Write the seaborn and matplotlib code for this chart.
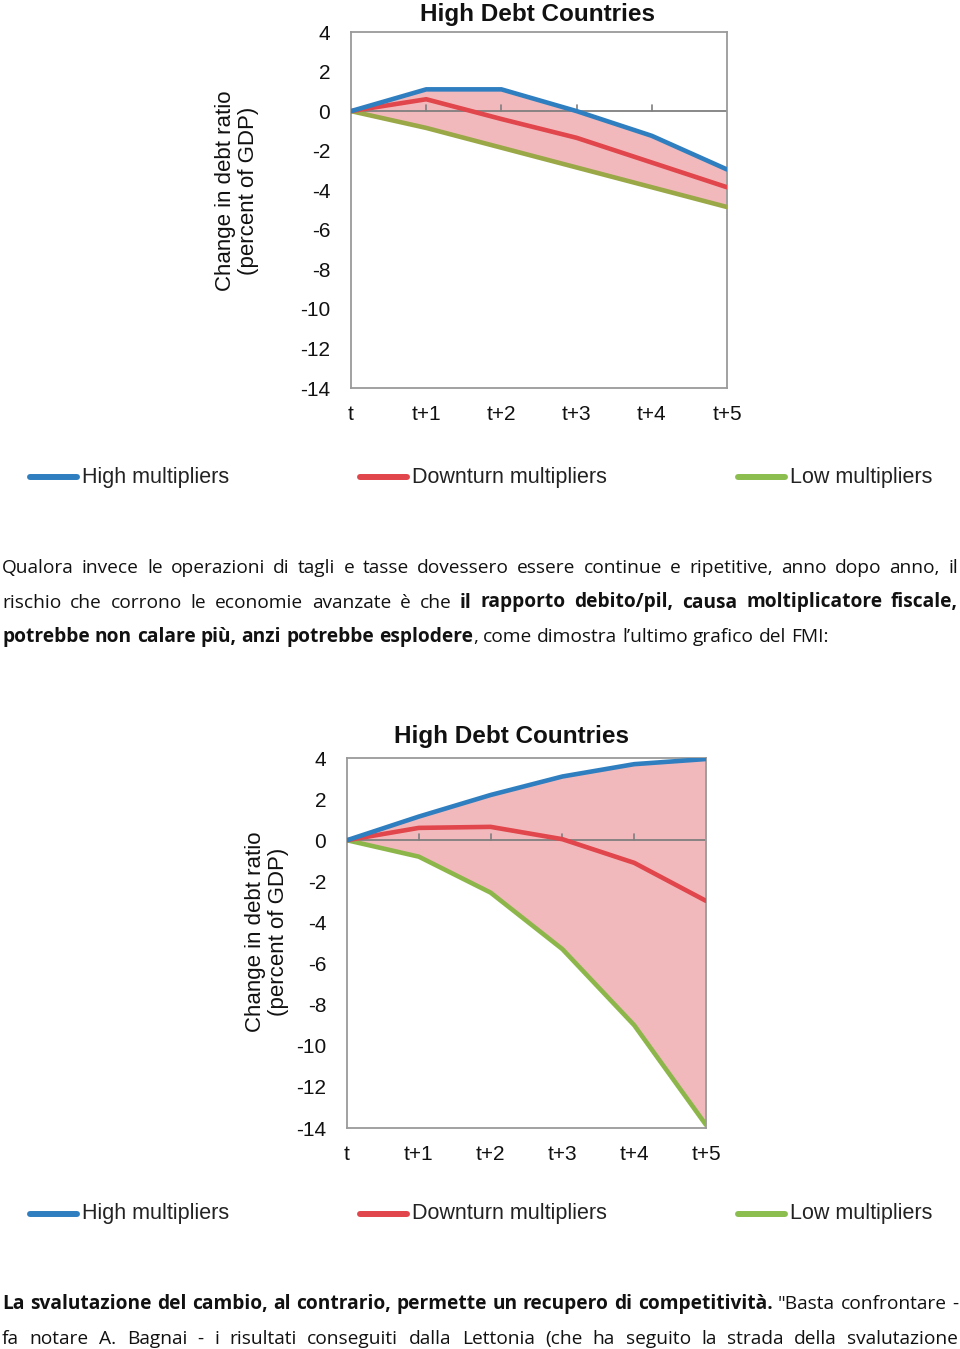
import matplotlib
matplotlib.use('Agg')
import matplotlib.pyplot as plt
import seaborn as sns

# x axis
steps = [0, 1, 2, 3, 4, 5]
step_labels = ['t', 't+1', 't+2', 't+3', 't+4', 't+5']
y_ticks = [4, 2, 0, -2, -4, -6, -8, -10, -12, -14]

# chart 1: one-off consolidation
high_1 = [0, 1.1, 1.1, 0.0, -1.25, -2.95]
downturn_1 = [0, 0.6, -0.4, -1.35, -2.6, -3.85]
low_1 = [0, -0.85, -1.85, -2.85, -3.85, -4.85]

# chart 2: repeated consolidation
high_2 = [0, 1.15, 2.2, 3.1, 3.7, 3.95]
downturn_2 = [0, 0.6, 0.65, 0.05, -1.1, -2.95]
low_2 = [0, -0.8, -2.55, -5.3, -9.0, -13.85]

series_names = ['High multipliers', 'Downturn multipliers', 'Low multipliers']
BLUE, RED, PINK = '#2f7fc0', '#e0464b', '#f2b9bc'

para_1 = [
    [("Qualora invece le operazioni di tagli e tasse dovessero essere continue e ripetitive, anno dopo anno, il", False)],
    [("rischio che corrono le economie avanzate è che", False),
     ("il rapporto debito/pil, causa moltiplicatore fiscale,", True)],
    [("potrebbe non calare più, anzi potrebbe esplodere", True),
     (", come dimostra l’ultimo grafico del FMI:", False)],
]
para_2 = [
    [("La svalutazione del cambio, al contrario, permette un recupero di competitività.", True),
     ('"Basta confrontare -', False)],
    [("fa notare A. Bagnai - i risultati conseguiti dalla Lettonia (che ha seguito la strada della svalutazione", False)],
]

sns.set_theme(style='white')
plt.rcParams['font.family'] = ['Liberation Sans', 'DejaVu Sans']

W, H = 960, 1349
fig = plt.figure(figsize=(W / 100, H / 100), dpi=100)


def px_axes(left, top, right, bottom):
    return fig.add_axes([left / W, 1 - bottom / H, (right - left) / W, (bottom - top) / H])


def draw_chart(box, high, down, low, green, title_xy, ylab_xy):
    ax = px_axes(*box)
    ax.fill_between(steps, low, high, color=PINK, linewidth=0, zorder=1)
    ax.axhline(0, color='#7f7f7f', linewidth=1.3, zorder=2)
    for s in steps[1:-1]:
        ax.plot([s, s], [0, 0.3], color='#7f7f7f', linewidth=1.2, zorder=2)
    for vals, col in [(low, green), (down, RED), (high, BLUE)]:
        sns.lineplot(x=steps, y=vals, ax=ax, color=col, linewidth=3.3, zorder=3,
                     solid_capstyle='round', solid_joinstyle='round')
    ax.set_xlim(0, 5)
    ax.set_ylim(-14, 4)
    ax.set_yticks(y_ticks)
    ax.set_yticklabels([str(v) for v in y_ticks])
    ax.set_xticks(steps)
    ax.set_xticklabels(step_labels)
    ax.tick_params(axis='y', length=0, pad=15, labelsize=15, labelcolor='#111111')
    ax.tick_params(axis='x', length=0, pad=12, labelsize=15, labelcolor='#111111')
    for sp in ax.spines.values():
        sp.set_color('#9a9a9a')
        sp.set_linewidth(1.3)
    ax.grid(False)
    fig.text(title_xy[0] / W, 1 - title_xy[1] / H, 'High Debt Countries', ha='center', va='center',
             fontsize=17.5, fontweight='bold', color='#111111')
    fig.text(ylab_xy[0] / W, 1 - ylab_xy[1] / H, 'Change in debt ratio\n(percent of GDP)',
             rotation=90, ha='center', va='center', fontsize=16, color='#111111', linespacing=1.15)
    return ax


def draw_legend(y):
    items = [(30, BLUE), (360, RED), (738, '#8cbd4f')]
    for (x0, col), name in zip(items, series_names):
        fig.add_artist(plt.Line2D([x0 / W, (x0 + 47) / W], [1 - y / H, 1 - y / H], color=col,
                                  linewidth=4.3, solid_capstyle='round', transform=fig.transFigure))
        fig.text((x0 + 52) / W, 1 - y / H, name, ha='left', va='center', fontsize=15.5,
                 color='#222222')


def draw_paragraph(lines, y0, spacing, justify_last=False, x0=2, x1=958):
    renderer = fig.canvas.get_renderer()
    for i, chunks in enumerate(lines):
        y = 1 - (y0 + i * spacing) / H
        words = []
        for txt, bold in chunks:
            for j, w in enumerate(txt.split(' ')):
                if w == '':
                    continue
                glue = (j == 0 and txt[0] in ',.:' and words)
                if glue:
                    words[-1].append((w, bold))
                else:
                    words.append([(w, bold)])
        last = i == len(lines) - 1 and not justify_last
        arts = []
        widths = []
        for grp in words:
            pieces = []
            wsum = 0
            for w, bold in grp:
                t = fig.text(0, y, w, fontsize=13.8, fontweight='bold' if bold else 'normal',
                             family=['Open Sans', 'DejaVu Sans'], color='#111111', va='baseline')
                ext = t.get_window_extent(renderer)
                pieces.append((t, wsum))
                wsum += ext.width
            arts.append(pieces)
            widths.append(wsum)
        total = sum(widths)
        if last:
            gap = 5.0
        else:
            gap = (x1 - x0 - total) / max(len(words) - 1, 1)
        x = x0
        for pieces, wd in zip(arts, widths):
            for t, off in pieces:
                t.set_x((x + off) / W)
            x += wd + gap


draw_chart((351, 32, 727, 388), high_1, downturn_1, low_1, '#9aa848', (537, 14), (237, 191))
draw_legend(477)
draw_paragraph(para_1, 573, 34.5)
draw_chart((347, 758, 706, 1128), high_2, downturn_2, low_2, '#8db64a', (512, 737), (267, 932))
draw_legend(1214)
draw_paragraph(para_2, 1309, 35, justify_last=True)

fig.savefig('out.png', dpi=100)
